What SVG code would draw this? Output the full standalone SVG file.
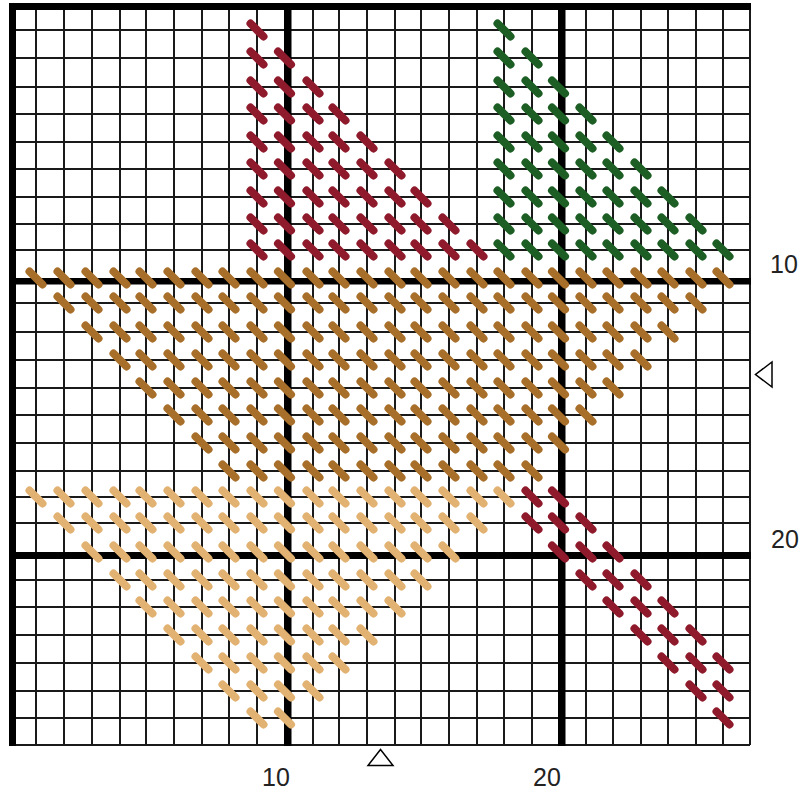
<svg xmlns="http://www.w3.org/2000/svg" width="802" height="793" viewBox="0 0 802 793">
<style>
.thin{fill:none;stroke:#1a1a1a;stroke-width:2}
.thick{fill:#000}
.s{fill:none;stroke-width:8;stroke-linecap:round}
.red{stroke:#8e1a2c}
.green{stroke:#1c5e24}
.brown{stroke:#a86f2a}
.tan{stroke:#e2b272}
.lbl{font-family:"Liberation Sans",Arial,sans-serif;font-size:25px;fill:#222}
.mk{fill:#fff;stroke:#000;stroke-width:1.5}
</style>
<rect width="802" height="793" fill="#fff"/>
<g id="grid">
<path class="thin" d="M36 3V745M64 3V745M92 3V745M120 3V745M146 3V745M174 3V745M202 3V745M229 3V745M257 3V745M313 3V745M339 3V745M367 3V745M395 3V745M421 3V745M449 3V745M477 3V745M504 3V745M532 3V745M586 3V745M613 3V745M641 3V745M668 3V745M696 3V745M723 3V745M750 3V745M9 30H750M9 58H750M9 87H750M9 114H750M9 142H750M9 169H750M9 197H750M9 224H750M9 250H750M9 303H750M9 332H750M9 360H750M9 388H750M9 415H750M9 443H750M9 471H750M9 497H750M9 523H750M9 580H750M9 607H750M9 635H750M9 663H750M9 691H750M9 718H750M9 745H750"/>
<rect class="thick" x="9" y="3" width="742" height="7"/>
<rect class="thick" x="9" y="3" width="7" height="743"/>
<rect class="thick" x="284" y="3" width="7.5" height="743"/>
<rect class="thick" x="558" y="3" width="7.5" height="743"/>
<rect class="thick" x="9" y="278" width="742" height="6.5"/>
<rect class="thick" x="9" y="552" width="742" height="7"/>
</g>
<g id="red-top">
<path class="s red" d="M250.5 23.5l13 13
M250.5 51.5l13 13M278 51.5l13 13
M250.5 80.5l13 13M278 80.5l13 13M306.5 80.5l13 13
M250.5 107.5l13 13M278 107.5l13 13M306.5 107.5l13 13M332.5 107.5l13 13
M250.5 135.5l13 13M278 135.5l13 13M306.5 135.5l13 13M332.5 135.5l13 13M360.5 135.5l13 13
M250.5 162.5l13 13M278 162.5l13 13M306.5 162.5l13 13M332.5 162.5l13 13M360.5 162.5l13 13M388.5 162.5l13 13
M250.5 190.5l13 13M278 190.5l13 13M306.5 190.5l13 13M332.5 190.5l13 13M360.5 190.5l13 13M388.5 190.5l13 13M414.5 190.5l13 13
M250.5 217.5l13 13M278 217.5l13 13M306.5 217.5l13 13M332.5 217.5l13 13M360.5 217.5l13 13M388.5 217.5l13 13M414.5 217.5l13 13M442.5 217.5l13 13
M250.5 243.5l13 13M278 243.5l13 13M306.5 243.5l13 13M332.5 243.5l13 13M360.5 243.5l13 13M388.5 243.5l13 13M414.5 243.5l13 13M442.5 243.5l13 13M470.5 243.5l13 13"/>
</g>
<g id="green-top">
<path class="s green" d="M497.5 23.5l13 13
M497.5 51.5l13 13M525.5 51.5l13 13
M497.5 80.5l13 13M525.5 80.5l13 13M552 80.5l13 13
M497.5 107.5l13 13M525.5 107.5l13 13M552 107.5l13 13M579.5 107.5l13 13
M497.5 135.5l13 13M525.5 135.5l13 13M552 135.5l13 13M579.5 135.5l13 13M606.5 135.5l13 13
M497.5 162.5l13 13M525.5 162.5l13 13M552 162.5l13 13M579.5 162.5l13 13M606.5 162.5l13 13M634.5 162.5l13 13
M497.5 190.5l13 13M525.5 190.5l13 13M552 190.5l13 13M579.5 190.5l13 13M606.5 190.5l13 13M634.5 190.5l13 13M661.5 190.5l13 13
M497.5 217.5l13 13M525.5 217.5l13 13M552 217.5l13 13M579.5 217.5l13 13M606.5 217.5l13 13M634.5 217.5l13 13M661.5 217.5l13 13M689.5 217.5l13 13
M497.5 243.5l13 13M525.5 243.5l13 13M552 243.5l13 13M579.5 243.5l13 13M606.5 243.5l13 13M634.5 243.5l13 13M661.5 243.5l13 13M689.5 243.5l13 13M716.5 243.5l13 13"/>
</g>
<g id="brown-middle">
<path class="s brown" d="M29.5 271.5l13 13M57.5 271.5l13 13M85.5 271.5l13 13M113.5 271.5l13 13M139.5 271.5l13 13M167.5 271.5l13 13M195.5 271.5l13 13M222.5 271.5l13 13M250.5 271.5l13 13M278 271.5l13 13M306.5 271.5l13 13M332.5 271.5l13 13M360.5 271.5l13 13M388.5 271.5l13 13M414.5 271.5l13 13M442.5 271.5l13 13M470.5 271.5l13 13M497.5 271.5l13 13M525.5 271.5l13 13M552 271.5l13 13M579.5 271.5l13 13M606.5 271.5l13 13M634.5 271.5l13 13M661.5 271.5l13 13M689.5 271.5l13 13M716.5 271.5l13 13
M57.5 296.5l13 13M85.5 296.5l13 13M113.5 296.5l13 13M139.5 296.5l13 13M167.5 296.5l13 13M195.5 296.5l13 13M222.5 296.5l13 13M250.5 296.5l13 13M278 296.5l13 13M306.5 296.5l13 13M332.5 296.5l13 13M360.5 296.5l13 13M388.5 296.5l13 13M414.5 296.5l13 13M442.5 296.5l13 13M470.5 296.5l13 13M497.5 296.5l13 13M525.5 296.5l13 13M552 296.5l13 13M579.5 296.5l13 13M606.5 296.5l13 13M634.5 296.5l13 13M661.5 296.5l13 13M689.5 296.5l13 13
M85.5 325.5l13 13M113.5 325.5l13 13M139.5 325.5l13 13M167.5 325.5l13 13M195.5 325.5l13 13M222.5 325.5l13 13M250.5 325.5l13 13M278 325.5l13 13M306.5 325.5l13 13M332.5 325.5l13 13M360.5 325.5l13 13M388.5 325.5l13 13M414.5 325.5l13 13M442.5 325.5l13 13M470.5 325.5l13 13M497.5 325.5l13 13M525.5 325.5l13 13M552 325.5l13 13M579.5 325.5l13 13M606.5 325.5l13 13M634.5 325.5l13 13M661.5 325.5l13 13
M113.5 353.5l13 13M139.5 353.5l13 13M167.5 353.5l13 13M195.5 353.5l13 13M222.5 353.5l13 13M250.5 353.5l13 13M278 353.5l13 13M306.5 353.5l13 13M332.5 353.5l13 13M360.5 353.5l13 13M388.5 353.5l13 13M414.5 353.5l13 13M442.5 353.5l13 13M470.5 353.5l13 13M497.5 353.5l13 13M525.5 353.5l13 13M552 353.5l13 13M579.5 353.5l13 13M606.5 353.5l13 13M634.5 353.5l13 13
M139.5 381.5l13 13M167.5 381.5l13 13M195.5 381.5l13 13M222.5 381.5l13 13M250.5 381.5l13 13M278 381.5l13 13M306.5 381.5l13 13M332.5 381.5l13 13M360.5 381.5l13 13M388.5 381.5l13 13M414.5 381.5l13 13M442.5 381.5l13 13M470.5 381.5l13 13M497.5 381.5l13 13M525.5 381.5l13 13M552 381.5l13 13M579.5 381.5l13 13M606.5 381.5l13 13
M167.5 408.5l13 13M195.5 408.5l13 13M222.5 408.5l13 13M250.5 408.5l13 13M278 408.5l13 13M306.5 408.5l13 13M332.5 408.5l13 13M360.5 408.5l13 13M388.5 408.5l13 13M414.5 408.5l13 13M442.5 408.5l13 13M470.5 408.5l13 13M497.5 408.5l13 13M525.5 408.5l13 13M552 408.5l13 13M579.5 408.5l13 13
M195.5 436.5l13 13M222.5 436.5l13 13M250.5 436.5l13 13M278 436.5l13 13M306.5 436.5l13 13M332.5 436.5l13 13M360.5 436.5l13 13M388.5 436.5l13 13M414.5 436.5l13 13M442.5 436.5l13 13M470.5 436.5l13 13M497.5 436.5l13 13M525.5 436.5l13 13M552 436.5l13 13
M222.5 464.5l13 13M250.5 464.5l13 13M278 464.5l13 13M306.5 464.5l13 13M332.5 464.5l13 13M360.5 464.5l13 13M388.5 464.5l13 13M414.5 464.5l13 13M442.5 464.5l13 13M470.5 464.5l13 13M497.5 464.5l13 13M525.5 464.5l13 13"/>
</g>
<g id="tan-bottom">
<path class="s tan" d="M29.5 490.5l13 13M57.5 490.5l13 13M85.5 490.5l13 13M113.5 490.5l13 13M139.5 490.5l13 13M167.5 490.5l13 13M195.5 490.5l13 13M222.5 490.5l13 13M250.5 490.5l13 13M278 490.5l13 13M306.5 490.5l13 13M332.5 490.5l13 13M360.5 490.5l13 13M388.5 490.5l13 13M414.5 490.5l13 13M442.5 490.5l13 13M470.5 490.5l13 13M497.5 490.5l13 13
M57.5 516.5l13 13M85.5 516.5l13 13M113.5 516.5l13 13M139.5 516.5l13 13M167.5 516.5l13 13M195.5 516.5l13 13M222.5 516.5l13 13M250.5 516.5l13 13M278 516.5l13 13M306.5 516.5l13 13M332.5 516.5l13 13M360.5 516.5l13 13M388.5 516.5l13 13M414.5 516.5l13 13M442.5 516.5l13 13M470.5 516.5l13 13
M85.5 545.5l13 13M113.5 545.5l13 13M139.5 545.5l13 13M167.5 545.5l13 13M195.5 545.5l13 13M222.5 545.5l13 13M250.5 545.5l13 13M278 545.5l13 13M306.5 545.5l13 13M332.5 545.5l13 13M360.5 545.5l13 13M388.5 545.5l13 13M414.5 545.5l13 13M442.5 545.5l13 13
M113.5 573.5l13 13M139.5 573.5l13 13M167.5 573.5l13 13M195.5 573.5l13 13M222.5 573.5l13 13M250.5 573.5l13 13M278 573.5l13 13M306.5 573.5l13 13M332.5 573.5l13 13M360.5 573.5l13 13M388.5 573.5l13 13M414.5 573.5l13 13
M139.5 600.5l13 13M167.5 600.5l13 13M195.5 600.5l13 13M222.5 600.5l13 13M250.5 600.5l13 13M278 600.5l13 13M306.5 600.5l13 13M332.5 600.5l13 13M360.5 600.5l13 13M388.5 600.5l13 13
M167.5 628.5l13 13M195.5 628.5l13 13M222.5 628.5l13 13M250.5 628.5l13 13M278 628.5l13 13M306.5 628.5l13 13M332.5 628.5l13 13M360.5 628.5l13 13
M195.5 656.5l13 13M222.5 656.5l13 13M250.5 656.5l13 13M278 656.5l13 13M306.5 656.5l13 13M332.5 656.5l13 13
M222.5 684.5l13 13M250.5 684.5l13 13M278 684.5l13 13M306.5 684.5l13 13
M250.5 711.5l13 13M278 711.5l13 13"/>
</g>
<g id="red-bottom">
<path class="s red" d="M525.5 490.5l13 13M552 490.5l13 13
M525.5 516.5l13 13M552 516.5l13 13M579.5 516.5l13 13
M552 545.5l13 13M579.5 545.5l13 13M606.5 545.5l13 13
M579.5 573.5l13 13M606.5 573.5l13 13M634.5 573.5l13 13
M606.5 600.5l13 13M634.5 600.5l13 13M661.5 600.5l13 13
M634.5 628.5l13 13M661.5 628.5l13 13M689.5 628.5l13 13
M661.5 656.5l13 13M689.5 656.5l13 13M716.5 656.5l13 13
M689.5 684.5l13 13M716.5 684.5l13 13
M716.5 711.5l13 13"/>
</g>
<g id="labels">
<text class="lbl" x="770" y="273">10</text>
<text class="lbl" x="771" y="548">20</text>
<text class="lbl" x="262" y="786">10</text>
<text class="lbl" x="533" y="786">20</text>
</g>
<g id="markers">
<polygon class="mk" points="368,765.5 393,765.5 380.5,749.5"/>
<polygon class="mk" points="772,362 772,387 755.5,374.5"/>
</g>
</svg>
